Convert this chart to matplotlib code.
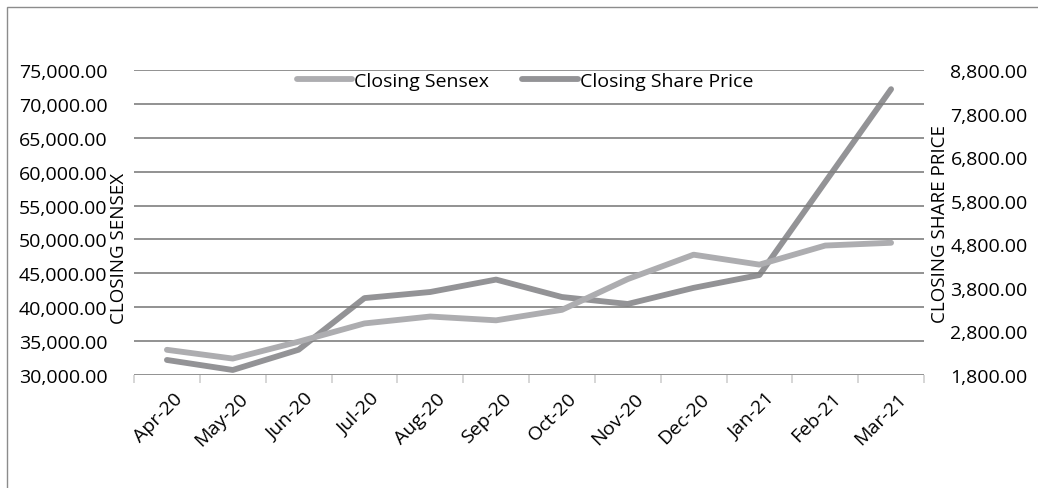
import matplotlib
matplotlib.use("Agg")
import matplotlib.pyplot as plt
import matplotlib.transforms as mtransforms
from matplotlib.patches import Rectangle
from matplotlib.ticker import FuncFormatter
import numpy as np

months = ["Apr-20", "May-20", "Jun-20", "Jul-20", "Aug-20", "Sep-20",
          "Oct-20", "Nov-20", "Dec-20", "Jan-21", "Feb-21", "Mar-21"]
sensex = [33717, 32424, 34915, 37607, 38628, 38068,
          39614, 44150, 47751, 46286, 49100, 49509]
share_price = [2145, 1915, 2380, 3565, 3705, 3990,
               3590, 3430, 3800, 4095, 6230, 8360]

left_ticks = np.arange(30000, 75001, 5000)
right_ticks = np.arange(1800, 8801, 1000)

plt.rcParams["font.family"] = ["Open Sans", "DejaVu Sans"]

fig = plt.figure(figsize=(10.38, 4.89), dpi=100)
W, H = 1038, 489
ax = fig.add_axes([134 / W, 1 - 376 / H, 790 / W, 305 / H])
ax2 = ax.twinx()

# outer chart border (right and bottom fall off the image)
fig.patches.append(Rectangle((7 / W, -0.1), 1.2, 1 - 8 / H + 0.1, transform=fig.transFigure,
                             fill=False, edgecolor="#8c8c8c", linewidth=1.0))

x = np.arange(len(months))
l1, = ax.plot(x, sensex, color="#adadb0", linewidth=4.2, solid_capstyle="round",
              solid_joinstyle="round", label="Closing Sensex", zorder=3)
l2, = ax2.plot(x, share_price, color="#939396", linewidth=4.2, solid_capstyle="round",
               solid_joinstyle="round", label="Closing Share Price", zorder=3)

fmt = FuncFormatter(lambda v, p: f"{v:,.2f}")
ax.set_xlim(-0.5, len(months) - 0.5)
ax.set_ylim(30000, 75000)
ax.set_yticks(left_ticks)
ax.yaxis.set_major_formatter(fmt)
ax2.set_ylim(1800, 8800)
ax2.set_yticks(right_ticks)
ax2.yaxis.set_major_formatter(fmt)

for v in left_ticks:
    ax.axhline(v, color="#7f7f7f", linewidth=1.2, zorder=1)

for a in (ax, ax2):
    for s in a.spines.values():
        s.set_visible(False)
ax.tick_params(axis="y", length=0, labelsize=14, pad=19)
ax2.tick_params(axis="y", length=0, labelsize=14, pad=19)

ax.set_xticks(x)
ax.set_xticklabels(months, rotation=45, ha="right", rotation_mode="anchor", fontsize=14)
ax.tick_params(axis="x", length=0, pad=10)
shift = mtransforms.ScaledTranslation(6 / 100, 0, fig.dpi_scale_trans)
for lbl in ax.get_xticklabels():
    lbl.set_transform(lbl.get_transform() + shift)
ax.set_xticks(np.arange(-0.5, len(months)), minor=True)
ax.tick_params(axis="x", which="minor", length=6, color="#d0d0d0", width=1.2)

fig.text(119.5 / W, 1 - 248 / H, "CLOSING SENSEX", rotation=90, ha="center", va="center",
         fontsize=13.5)
fig.text(940 / W, 1 - 224 / H, "CLOSING SHARE PRICE", rotation=90, ha="center", va="center",
         fontsize=13.5)

ax.set_zorder(ax2.get_zorder() + 1)
ax.patch.set_visible(False)

fig.legend(handles=[l1, l2], loc="center", bbox_to_anchor=(525 / W, 1 - 82 / H), ncol=2,
           frameon=False, fontsize=14, handlelength=2.85, handletextpad=0.1,
           columnspacing=1.7)

fig.savefig("out.png", dpi=100)
